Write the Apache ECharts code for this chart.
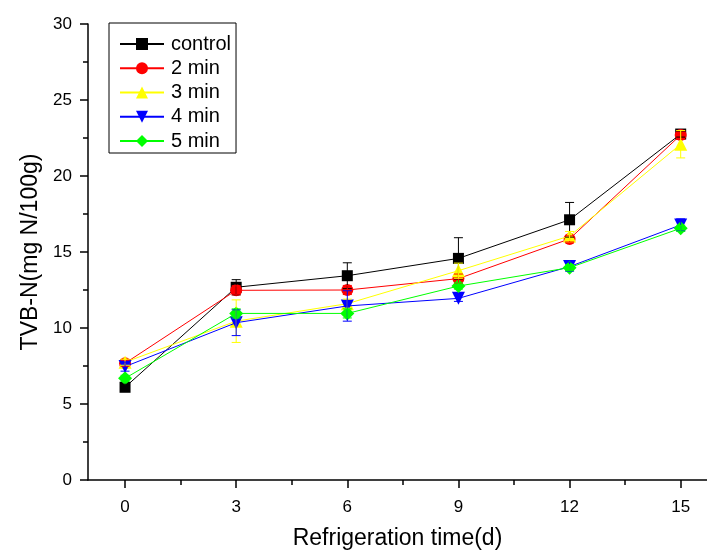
<!DOCTYPE html>
<html>
<head>
<meta charset="utf-8">
<script src="https://cdn.jsdelivr.net/npm/echarts@6/dist/echarts.min.js"></script>
<style>
html,body{margin:0;padding:0;background:#fff;}
#chart{width:707px;height:552px;}
</style>
</head>
<body>
<div id="chart"></div>
<script>
// ---- data ----
const days = [0, 3, 6, 9, 12, 15];
const xTickValues = [0, 3, 6, 9, 12, 15];
const xMinorTickValues = [1.5, 4.5, 7.5, 10.5, 13.5];
const seriesNames = ['control', '2 min', '3 min', '4 min', '5 min'];
const control = [6.1, 12.68, 13.44, 14.58, 17.12, 22.76];
const min2 = [7.68, 12.48, 12.5, 13.25, 15.86, 22.7];
const min3 = [7.75, 10.45, 11.6, 13.77, 16.05, 22.09];
const min4 = [7.46, 10.35, 11.45, 11.95, 14.04, 16.78];
const min5 = [6.69, 10.96, 10.96, 12.76, 13.97, 16.56];
const controlErr = [0.2, 0.5, 0.85, 1.36, 1.14, 0.2];
const min2Err = [0.2, 0.3, 0.3, 0.3, 0.2, 0.3];
const min3Err = [0.2, 1.4, 0.3, 0.5, 0.3, 0.9];
const min4Err = [0.3, 0.85, 1.0, 0.2, 0.3, 0.4];
const min5Err = [0.2, 0.3, 0.3, 0.2, 0.2, 0.2];

const values = [control, min2, min3, min4, min5];
const errs = [controlErr, min2Err, min3Err, min4Err, min5Err];
const colors = ['#000000', '#FF0000', '#FFFF00', '#0000FF', '#00FF00'];
const symbols = ['rect', 'circle', 'triangle', 'triangle', 'diamond'];
const symbolRotates = [0, 0, 0, 180, 0];
const symbolSizes = [11, 12, 13, 13, 14];
const FONT = 'Arial, "Liberation Sans", sans-serif';

const series = [];
values.forEach((vals, i) => {
  series.push({
    name: seriesNames[i],
    type: 'line',
    data: days.map((d, k) => [d, vals[k]]),
    symbol: symbols[i],
    symbolRotate: symbolRotates[i],
    symbolSize: symbolSizes[i],
    color: colors[i],
    lineStyle: { width: 1, color: colors[i] },
    itemStyle: { color: colors[i] },
    z: 2 + i,
    animation: false
  });
});
values.forEach((vals, i) => {
  series.push({
    name: seriesNames[i] + ' err',
    type: 'custom',
    data: days.map((d, k) => [d, vals[k] - errs[i][k], vals[k] + errs[i][k]]),
    z: 10 + i,
    silent: true,
    animation: false,
    encode: { x: 0, y: [1, 2] },
    renderItem: function (params, api) {
      const x = api.value(0);
      const lo = api.coord([x, api.value(1)]);
      const hi = api.coord([x, api.value(2)]);
      const hw = 4.5;
      const style = { stroke: colors[i], lineWidth: 1, fill: null };
      return {
        type: 'group',
        children: [
          { type: 'line', shape: { x1: lo[0], y1: lo[1], x2: hi[0], y2: hi[1] }, style: style },
          { type: 'line', shape: { x1: hi[0] - hw, y1: hi[1], x2: hi[0] + hw, y2: hi[1] }, style: style },
          { type: 'line', shape: { x1: lo[0] - hw, y1: lo[1], x2: lo[0] + hw, y2: lo[1] }, style: style }
        ]
      };
    }
  });
});

const chart = echarts.init(document.getElementById('chart'), null, { renderer: 'canvas' });
chart.setOption({
  backgroundColor: '#ffffff',
  animation: false,
  textStyle: { fontFamily: FONT },
  grid: { left: 88, right: 0, top: 24, bottom: 72, containLabel: false, outerBoundsMode: 'none' },
  legend: {
    data: seriesNames,
    orient: 'vertical',
    left: 109,
    top: 23,
    borderColor: '#000',
    borderWidth: 1,
    padding: [11, 5, 2, 10],
    itemWidth: 44,
    itemHeight: 15,
    itemGap: 4.25,
    textStyle: { fontFamily: FONT, fontSize: 20, lineHeight: 20, color: '#000', padding: [0, 0, 0, 2] }
  },
  xAxis: [{
    type: 'value',
    min: -1,
    max: 15.71,
    name: 'Refrigeration time(d)',
    nameLocation: 'middle',
    nameGap: 47,
    nameTextStyle: { fontFamily: FONT, fontSize: 23, color: '#000' },
    axisLine: { show: true, onZero: false, lineStyle: { color: '#000', width: 1.5 } },
    axisTick: { show: true, inside: false, length: 8, customValues: xTickValues, lineStyle: { color: '#000', width: 1.5 } },
    axisLabel: { show: true, margin: 19, customValues: xTickValues, fontFamily: FONT, fontSize: 17, color: '#000' },
    splitLine: { show: false }
  }, {
    type: 'value',
    min: -1,
    max: 15.71,
    position: 'bottom',
    axisLine: { show: false, onZero: false },
    axisTick: { show: true, inside: false, length: 5, customValues: xMinorTickValues, lineStyle: { color: '#000', width: 1.5 } },
    axisLabel: { show: false },
    splitLine: { show: false }
  }],
  yAxis: {
    type: 'value',
    min: 0,
    max: 30,
    interval: 5,
    name: 'TVB-N(mg N/100g)',
    nameLocation: 'middle',
    nameGap: 41,
    nameTextStyle: { fontFamily: FONT, fontSize: 23, color: '#000' },
    axisLine: { show: true, onZero: false, lineStyle: { color: '#000', width: 1.5 } },
    axisTick: { show: true, inside: false, length: 8, lineStyle: { color: '#000', width: 1.5 } },
    minorTick: { show: true, splitNumber: 2, length: 5, lineStyle: { color: '#000', width: 1.5 } },
    axisLabel: { margin: 16, fontFamily: FONT, fontSize: 17, color: '#000' },
    splitLine: { show: false }
  },
  series: series
});
</script>
</body>
</html>
